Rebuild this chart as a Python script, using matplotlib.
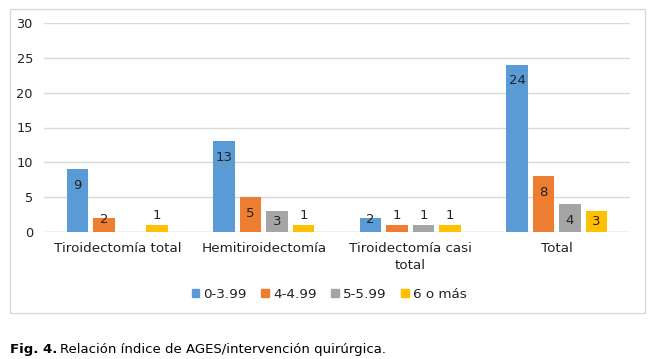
import numpy as np
import matplotlib.pyplot as plt
from matplotlib.patches import Rectangle

plt.rcParams['font.family'] = ['DejaVu Sans']

categories = ["Tiroidectomía total", "Hemitiroidectomía", "Tiroidectomía casi\ntotal", "Total"]
series_names = ["0-3.99", "4-4.99", "5-5.99", "6 o más"]
values = {
    "0-3.99": [9, 13, 2, 24],
    "4-4.99": [2, 5, 1, 8],
    "5-5.99": [0, 3, 1, 4],
    "6 o más": [1, 1, 1, 3],
}
colors = ["#5B9BD5", "#ED7D31", "#A5A5A5", "#FFC000"]

fig = plt.figure(figsize=(6.51, 3.59), dpi=100)
ax = fig.add_axes((44 / 651, 1 - 232 / 359, 586 / 651, 209 / 359))

# chart frame
fig.patches.append(Rectangle((9.5 / 651, 1 - 313 / 359), 635 / 651, 304 / 359,
                             transform=fig.transFigure, fill=False,
                             edgecolor="#D9D9D9", linewidth=1))

x = np.arange(len(categories))
pitch = 0.181
width = 0.144
for i, name in enumerate(series_names):
    vals = values[name]
    pos = x + (i - 1.5) * pitch
    ax.bar(pos, vals, width=width, color=colors[i], zorder=3)
    for p, v in zip(pos, vals):
        if v == 0:
            continue
        # excel style "inside end" labels
        if v >= 4:
            ax.annotate(str(v), (p, v), xytext=(0, -6.8), textcoords="offset points",
                        ha="center", va="top", fontsize=9.5, color="#222222", zorder=4)
        elif v == 3:
            ax.text(p, v / 2, str(v), ha="center", va="center", fontsize=9.5,
                    color="#222222", zorder=4)
        elif v == 2:
            ax.annotate(str(v), (p, v), xytext=(0, -0.7), textcoords="offset points",
                        ha="center", va="center", fontsize=9.5, color="#222222", zorder=4)
        else:
            ax.annotate(str(v), (p, v), xytext=(0, 2), textcoords="offset points",
                        ha="center", va="bottom", fontsize=9.5, color="#222222", zorder=4)

ax.set_xlim(-0.5, len(categories) - 0.5)
ax.set_ylim(0, 30)
ax.set_yticks(range(0, 31, 5))
ax.yaxis.grid(True, color="#D9D9D9", linewidth=1, zorder=0)
ax.set_axisbelow(True)
for s in ax.spines.values():
    s.set_visible(False)
ax.axhline(0, color="#D9D9D9", linewidth=1, zorder=2)
ax.tick_params(axis="both", length=0, labelsize=9.3, colors="#222222")
ax.tick_params(axis="y", pad=8)
ax.tick_params(axis="x", pad=7, labelsize=9.7)
ax.set_xticks(x)
ax.set_xticklabels(categories, linespacing=1.4, va="top")

handles = [Rectangle((0, 0), 1, 1, color=c) for c in colors]
fig.legend(handles, series_names, loc="center", bbox_to_anchor=(329 / 651, 1 - 294 / 359),
           ncol=4, frameon=False, fontsize=9.7, handlelength=0.55, handleheight=0.55,
           handletextpad=0.3, columnspacing=1.1, labelcolor="#222222")

fig.text(10 / 651, 1 - 350 / 359, "Fig. 4.", fontsize=9.5, fontweight="bold",
         va="center", ha="left")
fig.text(60 / 651, 1 - 350 / 359, "Relación índice de AGES/intervención quirúrgica.",
         fontsize=9.5, va="center", ha="left")

fig.savefig("out.png", dpi=100)
